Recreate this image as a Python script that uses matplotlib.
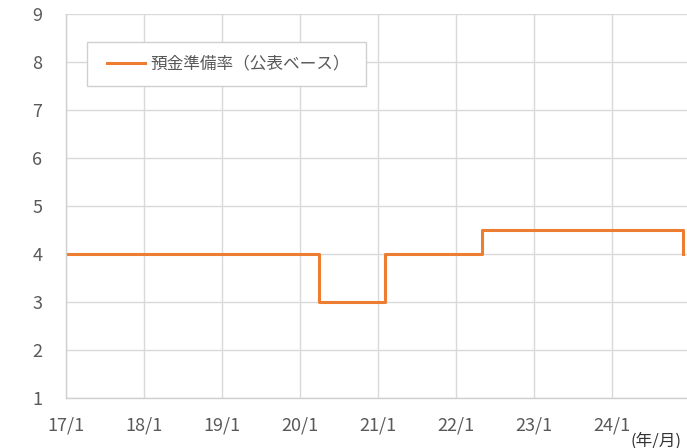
import numpy as np
import pandas as pd
import matplotlib
matplotlib.use("Agg")
import matplotlib.pyplot as plt
from matplotlib.patches import Rectangle

plt.rcParams['font.family'] = ['Noto Sans CJK JP', 'DejaVu Sans']

# change points of the reserve requirement ratio (step, held until next point)
change_dates = ["2017-01-01", "2020-04-01", "2021-02-01", "2022-05-01", "2024-12-01"]
ratio_values = [4.0, 3.0, 4.0, 4.5, 4.0]
tick_years = [2017, 2018, 2019, 2020, 2021, 2022, 2023, 2024]
tick_labels = ["17/1", "18/1", "19/1", "20/1", "21/1", "22/1", "23/1", "24/1"]
series_name = "預金準備率（公表ベース）"

W, H = 687, 448
x = pd.to_datetime(change_dates)

fig = plt.figure(figsize=(W / 100, H / 100), dpi=100)
ax = fig.add_axes([66 / W, 1 - 398 / H, 0.9080, 384 / H])

ax.step(x, ratio_values, where='post', color='#ED7D31', lw=2.2, label=series_name)

ax.set_ylim(1, 9)
ax.set_yticks(range(1, 10))
ax.set_xlim(pd.Timestamp("2017-01-01"), pd.Timestamp("2024-12-31"))
ax.set_xticks([pd.Timestamp(f"{y}-01-01") for y in tick_years])
ax.set_xticklabels(tick_labels)

ax.grid(True, color='#d9d9d9', lw=1)
ax.set_axisbelow(True)
for s in ['top', 'right']:
    ax.spines[s].set_visible(False)
for s in ['left', 'bottom']:
    ax.spines[s].set_color('#d0d0d0')
    ax.spines[s].set_linewidth(1)
ax.tick_params(length=0, colors='#595959', labelsize=13)
ax.tick_params(axis='x', pad=13)
ax.tick_params(axis='y', pad=17)

# legend: frame drawn by hand so its padding matches
box = Rectangle((87 / W, 1 - 86 / H), 279 / W, 44 / H,
                transform=fig.transFigure, facecolor='white',
                edgecolor='#d0d0d0', lw=1, zorder=5, clip_on=False)
ax.add_patch(box)
leg = ax.legend(loc='center left', bbox_to_anchor=(107 / W, 1 - 64 / H),
                bbox_transform=fig.transFigure, frameon=False, fontsize=12,
                handlelength=2.3, handletextpad=0.3, borderpad=0, borderaxespad=0,
                labelcolor='#595959')
leg.set_zorder(6)

fig.text(631 / W, 1 - 441 / H, "(年/月)", fontsize=12, color='#333333',
         va='center', ha='left')

fig.savefig("out.png", dpi=100)
